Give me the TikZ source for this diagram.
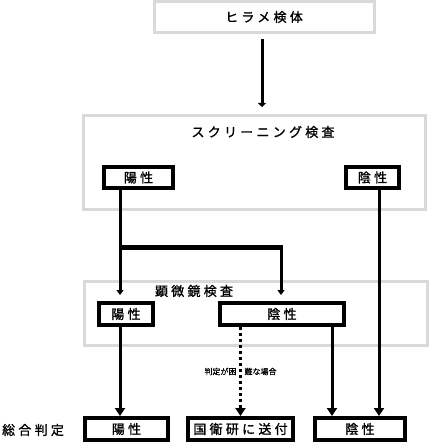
\documentclass[tikz,border=0pt]{standalone}
\usepackage{fontspec}
\newfontfamily\jp[LetterSpace=25, FakeBold=1.2]{Noto Sans CJK JP}
\newfontfamily\jpsmall[FakeBold=0.8]{Noto Sans CJK JP}
\usetikzlibrary{arrows.meta}
\definecolor{frame}{HTML}{D9D9D9}

\begin{document}
\begin{tikzpicture}[x=1pt, y=-1pt, font=\jp\fontsize{13}{15}\selectfont,
  group/.style={rectangle, draw=frame, line width=3pt, inner sep=0pt},
  result/.style={rectangle, draw, line width=4pt, fill=white, inner sep=0pt, minimum height=22pt},
  arrbig/.style={line width=3pt, -{Triangle[width=10pt, length=8pt]}},
  arrsmall/.style={line width=3pt, -{Triangle[width=7pt, length=5pt]}}]
  \useasboundingbox (0,0) rectangle (432,443);
  {
  % groups
  \node[group, minimum width=220pt, minimum height=31pt] (sample) at (264.5,17) {};
  \node at (264,17) {ヒラメ検体};
  \node[group, minimum width=342pt, minimum height=94pt] (screen) at (254.5,162.5) {};
  \node at (263,132) {スクリーニング検査};
  \node[group, minimum width=343pt, minimum height=64pt] (micro) at (256,313.5) {};
  \node at (194,291) {顕微鏡検査};

  % results
  \node[result, minimum width=69pt, minimum height=21pt] (spos) at (138.5,177.5) {陽性};
  \node[result, minimum width=53pt, minimum height=21pt] (sneg) at (372.5,177.5) {陰性};
  \node[result, minimum width=54pt] (mpos) at (126,314) {陽性};
  \node[result, minimum width=124pt] (mneg) at (282,314) {陰性};
  \node[result, minimum width=83pt] (fpos) at (126.5,429) {陽性};
  \node[result, minimum width=105pt] (fsend) at (240.5,429) {国衛研に送付};
  \node[result, minimum width=90pt] (fneg) at (360,429) {陰性};
  \node (total) at (33,430) {総合判定};

  \coordinate (split) at (120,247);
  \coordinate (mnegin) at (281,295);
  \coordinate (mnegout) at (332,327);
  \coordinate (snegout) at (379,190);

  \draw[line width=3pt, -{Triangle[width=8pt, length=4pt]}, shorten <=5pt] (sample.south -| 262,0) -- (262,107);
  \draw[arrsmall] (spos.south -| split) -- (split |- mnegin);
  \draw[line width=5pt] (split) -- (split -| 283,0);
  \draw[arrsmall] (split -| mnegin) -- (mnegin);
  \draw[arrbig] (mpos.south -| split) -- (fpos.north -| split);
  \draw[arrbig, dash pattern=on 3pt off 3pt] (fsend |- mneg.south) -- node[font=\jpsmall\fontsize{8}{9}\selectfont] {判定が困\hspace{8pt}難な場合} (fsend.north);
  \draw[arrbig] (mnegout) -- (mnegout |- fneg.north);
  \draw[arrbig] (snegout) -- (snegout |- fneg.north);
}
\end{tikzpicture}
\end{document}
